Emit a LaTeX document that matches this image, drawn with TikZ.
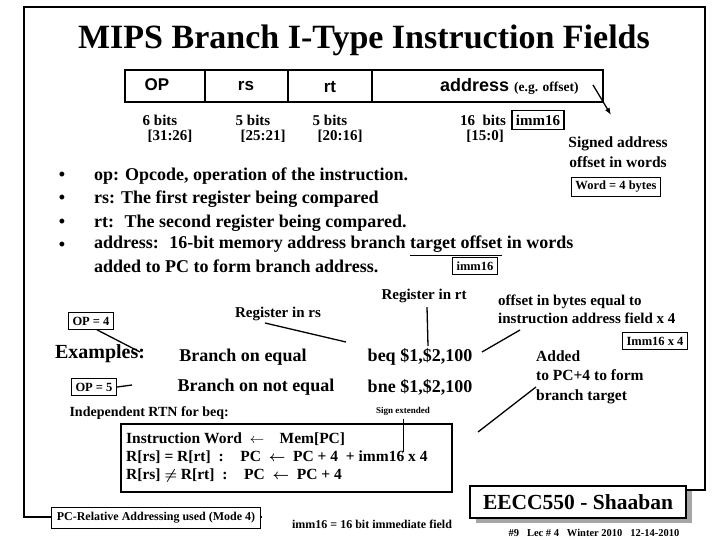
\documentclass[tikz,border=0pt]{standalone}
\usepackage{amsmath}
\usepackage{fontspec}
\setmainfont{Liberation Serif}
\newfontfamily\sansf{Liberation Sans}
\usetikzlibrary{arrows.meta}
\begin{document}
\begin{tikzpicture}[x=1pt,y=-1pt,
  lab/.style={font=\bfseries\fontsize{18}{20}\selectfont,inner sep=0pt},
  mid/.style={font=\bfseries\fontsize{15.5}{19.5}\selectfont,inner sep=0pt},
  sm/.style={font=\bfseries\fontsize{15}{17}\selectfont,inner sep=0pt},
  tiny/.style={font=\bfseries\fontsize{12.5}{14}\selectfont,inner sep=0pt},
  box/.style={draw,line width=1.3pt,inner sep=4pt},
  ln/.style={line width=1.3pt}]
\useasboundingbox (0,0) rectangle (720,540);
% frame
\draw[line width=2pt] (262,517) -- (24,517) -- (24,7) -- (705,7) -- (705,490) -- (686,490);
\node[font=\bfseries\fontsize{34}{38}\selectfont] (title) at (364,40) {MIPS Branch I-Type Instruction Fields};
% table
\draw[line width=1.3pt] (125,70) rectangle (603,102);
\draw[line width=1.3pt] (205,70)--(205,102) (288,70)--(288,102) (372,70)--(372,102);
\node[font=\sansf\bfseries\fontsize{17}{19}\selectfont] (op) at (157,85) {OP};
\node[font=\sansf\bfseries\fontsize{17}{19}\selectfont] (rs) at (246,86) {rs};
\node[font=\sansf\bfseries\fontsize{17}{19}\selectfont] (rt) at (330,87) {rt};
\node[anchor=west,inner sep=0pt] (addr) at (440,86) {\sansf\bfseries\fontsize{18}{20}\selectfont address \rmfamily\fontsize{13.5}{15}\selectfont(e.g. offset)};
\foreach \x/\a/\b in {160/6 bits/[31:26],253/5 bits/[25:21],330/5 bits/[20:16]}{
  \node[sm] at (\x,120) {\a};
  \node[sm] at (\x+10,136) {\b};}
\node[sm] (b16) at (483,120) {16~ bits};
\node[sm] at (485,136) {[15:0]};
\node[sm,box] (imm) at (538,120) {imm16};
\coordinate (a1) at (593,85);
\coordinate (a2) at (611,115);
\node[mid,align=center] (signed) at (618,152) {Signed address\\offset in words};
\draw[ln,-{Latex[length=7pt]}] (a1) -- (a2);
\node[tiny,box] (word) at (616,187) {Word = 4 bytes};
% bullets
\foreach \y in {176,199,223,246}{\node[lab] at (62,\y) {•};}
\node[lab,anchor=west] at (94,176) {op: Opcode, operation of the instruction.};
\node[lab,anchor=west] at (94,199) {rs: The first register being compared};
\node[lab,anchor=west] at (94,223) {rt:~ The second register being compared.};
\node[lab,anchor=west] at (94,246) {address:~ 16-bit memory address branch \underline{target offset} in words};
\node[lab,anchor=west] at (94,266) {added to PC to form branch address.};
\node[tiny,box] (imm2) at (475,266) {imm16};
% examples
\node[sm] (rrt) at (424,296) {Register in rt};
\node[sm] (rrs) at (278,314) {Register in rs};
\node[sm,align=left,anchor=west,font=\bfseries\fontsize{15}{18}\selectfont] (offb) at (498,309) {offset in bytes equal to\\instruction address field x 4};
\node[tiny,box] (op4) at (91,321) {OP = 4};
\node[tiny,box] (i4) at (655,341) {Imm16 x 4};
\node[font=\bfseries\fontsize{20}{22}\selectfont] (ex) at (100,354) {Examples:};
\node[lab] (beq) at (243,357) {Branch on equal};
\node[lab] (beqi) at (420,357) {beq \$1,\$2,100};
\node[tiny,box] (op5) at (94,387) {OP = 5};
\node[lab] (bne) at (256,387) {Branch on not equal};
\node[lab] (bnei) at (420,387) {bne \$1,\$2,100};
\node[mid,align=left,anchor=west] (added) at (536,377) {Added\\to PC+4 to form\\branch target};
\node[font=\bfseries\fontsize{14}{16}\selectfont,anchor=west] (ind) at (66,413) {Independent RTN for beq:};
\node[font=\bfseries\fontsize{9}{10}\selectfont] (sign) at (403,411) {Sign extended};
\draw[line width=1.5pt] (121,424) rectangle (452,492);
\node[mid,anchor=west] (r1) at (126,439) {Instruction Word ~$\leftarrow$~~~ Mem[PC]};
\node[mid,anchor=west] (r2) at (126,457) {R[rs] = R[rt]~ :~~~ PC ~$\boldsymbol\leftarrow$~ PC + 4~ + imm16 x 4};
\node[mid,anchor=west] (r3) at (126,476) {R[rs] $\boldsymbol\neq$ R[rt]~ :~~~ PC ~$\boldsymbol\leftarrow$~ PC + 4};
\node[font=\bfseries\fontsize{12}{14}\selectfont,box,inner sep=5pt,fill=white] (pcr) at (156,518) {PC-Relative Addressing used (Mode 4)};
\node[font=\bfseries\fontsize{12}{14}\selectfont] (immf) at (372,524) {imm16 = 16 bit immediate field};
\fill[gray!70] (476,491) rectangle (692,523);
\node[draw,line width=1.5pt,fill=white,minimum width=216pt,minimum height=32pt,font=\bfseries\fontsize{21.5}{24}\selectfont] (ee) at (578,502) {EECC550 - Shaaban};
\node[font=\bfseries\fontsize{10.5}{12}\selectfont] (foot) at (594,533) {\#9~~ Lec \# 4~~ Winter 2010~~ 12-14-2010};
% connectors
\coordinate (c1) at (140,352);
\coordinate (c2) at (132,385);
\coordinate (c3) at (265,323);
\coordinate (c4) at (346,342);
\coordinate (c5) at (428,346);
\coordinate (c6) at (520,330);
\coordinate (c7) at (482,352);
\coordinate (c8) at (536,387);
\coordinate (c9) at (478,432);
\coordinate (c10) at (403,452);
\draw[ln] ([xshift=6pt]op4.south) -- (c1);
\draw[ln] (op5.east) -- (c2);
\draw[ln] (c3) -- (c4);
\draw[ln] (rrt.south) ++(3,4) -- (c5);
\draw[ln] (c6) -- (c7);
\draw[ln] (c8) -- (c9);
\draw[line width=0.8pt] (sign.south) -- (c10);
\end{tikzpicture}
\end{document}
